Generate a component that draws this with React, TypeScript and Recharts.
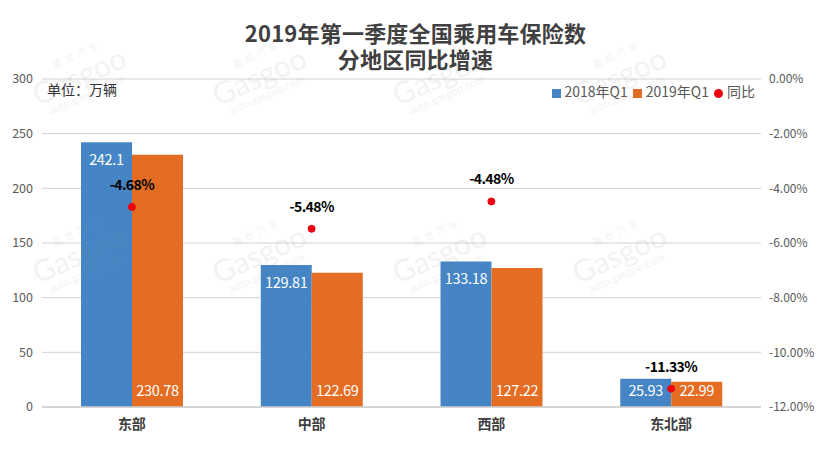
import React from "react";
import { Bar, CartesianGrid, ComposedChart, LabelList, Legend, Line, XAxis, YAxis } from "recharts";

const regions = ["东部", "中部", "西部", "东北部"];
const sales2018 = [242.1, 129.81, 133.18, 25.93];
const sales2019 = [230.78, 122.69, 127.22, 22.99];
const yoy = [-4.68, -5.48, -4.48, -11.33];
const leftTicks = [0, 50, 100, 150, 200, 250, 300];
const rightTicks = [0, -2, -4, -6, -8, -10, -12];

const tableData = regions.map((region, i) => ({
  region,
  q2018: sales2018[i],
  q2019: sales2019[i],
  yoy: yoy[i],
}));

const font = '"Noto Sans CJK SC", "Noto Sans", sans-serif';
const plotBottom = 407;
const markX = [44, 224, 404, 584];
const markY = [68, 246];

function BlueLabel(props: any) {
  const { x, y, width, value } = props;
  const cy = Math.min(y + 16, plotBottom - 18);
  return (
    <text x={x + width / 2} y={cy} fill="#fff" fontSize={14.5} letterSpacing={-0.3} textAnchor="middle" dominantBaseline="central">
      {value}
    </text>
  );
}

function OrangeLabel(props: any) {
  const { x, width, value } = props;
  return (
    <text x={x + width / 2} y={plotBottom - 18} fill="#fff" fontSize={14.5} letterSpacing={-0.3} textAnchor="middle" dominantBaseline="central">
      {value}
    </text>
  );
}

function YoyLabel(props: any) {
  const { x, y, value } = props;
  return (
    <text x={x} y={y - 23} fill="#000" fontSize={14} fontWeight={700} letterSpacing={-0.6} textAnchor="middle" dominantBaseline="central">
      {value.toFixed(2)}%
    </text>
  );
}

function Watermark({ left, top }: { left: number; top: number }) {
  return (
    <div
      style={{
        position: "absolute",
        left,
        top,
        width: 100,
        color: "#888",
        opacity: 0.1,
        transform: "rotate(-24deg)",
        transformOrigin: "left bottom",
        lineHeight: 1,
        whiteSpace: "nowrap",
        pointerEvents: "none",
      }}
    >
      <div style={{ fontSize: 10, marginLeft: 30, letterSpacing: 3 }}>盖世汽车</div>
      <div style={{ fontSize: 30, fontFamily: "Lato, sans-serif" }}>Gasgoo</div>
      <div style={{ fontSize: 11, marginLeft: 8, fontFamily: "Lato, sans-serif" }}>auto.gasgoo.com</div>
    </div>
  );
}

export default function App() {
  return (
    <div style={{ position: "absolute", left: 0, top: 0, width: 820, height: 452, background: "#fff", fontFamily: font, overflow: "hidden" }}>
      <div style={{ position: "absolute", left: 0, top: 19, width: 831, textAlign: "center", fontSize: 22, letterSpacing: 0.2, fontWeight: 700, lineHeight: "26px", color: "#404040" }}>
        2019年第一季度全国乘用车保险数
        <br />
        分地区同比增速
      </div>
      <div style={{ position: "absolute", left: 47, top: 79, fontSize: 14, lineHeight: "20px", color: "#333", zIndex: 1 }}>单位：万辆</div>
      <ComposedChart
        width={820}
        height={452}
        data={tableData}
        barGap={0}
        barCategoryGap="21.7%"
        margin={{ top: 79, right: 0, bottom: 0, left: 0 }}
        style={{ fontFamily: font }}
      >
        <CartesianGrid yAxisId="left" vertical={false} stroke="#d2d2d2" strokeWidth={1} syncWithTicks />
        <XAxis
          dataKey="region"
          height={45}
          tickLine={false}
          tickSize={0}
          axisLine={{ stroke: "#cfcfcf", strokeWidth: 1.5 }}
          tick={{ fill: "#404040", fontSize: 14, fontWeight: 700 }}
          tickMargin={12}
        />
        <YAxis
          yAxisId="left"
          width={42}
          domain={[0, 300]}
          ticks={leftTicks}
          tickLine={false}
          tickSize={0}
          axisLine={false}
          tickMargin={9}
          tick={{ fill: "#595959", fontSize: 12.5 }}
        />
        <YAxis
          yAxisId="right"
          orientation="right"
          width={59}
          domain={[-12, 0]}
          ticks={rightTicks}
          tickLine={false}
          tickSize={0}
          axisLine={false}
          tickMargin={8}
          tickFormatter={(v: number) => `${v.toFixed(2)}%`}
          tick={{ fill: "#595959", fontSize: 12, textAnchor: "start" }}
        />
        <Legend
          layout="horizontal"
          align="center"
          verticalAlign="middle"
          iconSize={9}
          wrapperStyle={{ position: "absolute", left: "auto", right: 60, top: 81, width: "auto", fontSize: 14, lineHeight: "20px" }}
          formatter={(value: string) => <span style={{ color: "#595959", display: "inline-block", marginRight: -5 }}>{value}</span>}
        />
        <Bar yAxisId="left" dataKey="q2018" name="2018年Q1" fill="#4585c5" legendType="square" isAnimationActive={false}>
          <LabelList dataKey="q2018" content={BlueLabel} />
        </Bar>
        <Bar yAxisId="left" dataKey="q2019" name="2019年Q1" fill="#e46c23" legendType="square" isAnimationActive={false}>
          <LabelList dataKey="q2019" content={OrangeLabel} />
        </Bar>
        <Line
          yAxisId="right"
          dataKey="yoy"
          name="同比"
          stroke="#f00011"
          strokeWidth={0}
          legendType="circle"
          dot={{ r: 3.5, fill: "#f00011", stroke: "#f00011", strokeWidth: 1 }}
          activeDot={false}
          isAnimationActive={false}
        >
          <LabelList dataKey="yoy" content={YoyLabel} />
        </Line>
      </ComposedChart>
      {markX.map((left) =>
        markY.map((top) => <Watermark key={`${left}-${top}`} left={left} top={top} />)
      )}
    </div>
  );
}
